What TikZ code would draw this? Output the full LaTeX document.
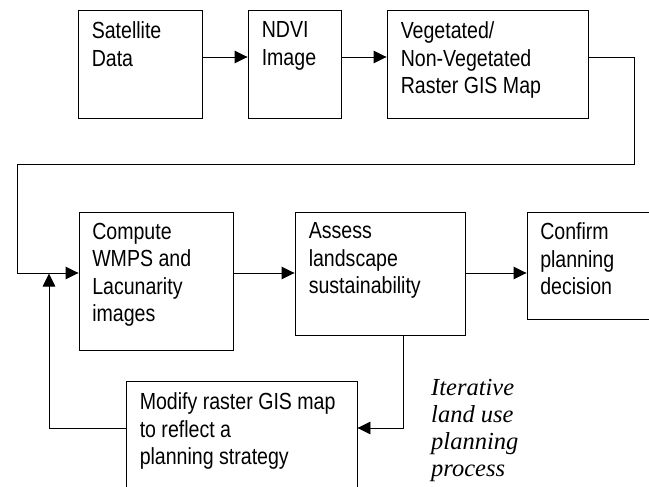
\documentclass[tikz,border=0pt]{standalone}
\usepackage{fontspec}
\setmainfont{Liberation Sans}[FakeStretch=0.84]
\newfontfamily\serifit{Liberation Serif}
\usetikzlibrary{arrows.meta}
\tikzset{
  box/.style={draw=black, line width=0.9pt, inner sep=0pt, fill=white},
  txt/.style={anchor=north west, inner sep=0pt, align=left, font=\fontsize{23.3}{27.5}\selectfont},
  ital/.style={anchor=north west, inner sep=0pt, align=left, font=\serifit\itshape\fontsize{24.5}{27}\selectfont},
  arr/.style={draw=black, line width=0.9pt, -{Triangle[length=13pt,width=12.5pt]}},
  ln/.style={draw=black, line width=0.9pt}
}
\begin{document}
\begin{tikzpicture}[x=1pt,y=-1pt]
\useasboundingbox (0,0) rectangle (649,487);
% boxes
\node[box, minimum width=124pt, minimum height=108pt] (sat) at (140,64) {};
\node[box, minimum width=93pt, minimum height=108pt] (ndvi) at (294.5,64) {};
\node[box, minimum width=201pt, minimum height=108pt] (veg) at (487.5,64) {};
\node[box, minimum width=154pt, minimum height=138pt] (comp) at (156,281) {};
\node[box, minimum width=170pt, minimum height=123pt] (assess) at (380,273.5) {};
\node[box, minimum width=143pt, minimum height=107pt] (conf) at (598.5,265.5) {};
\node[box, minimum width=231pt, minimum height=119pt] (mod) at (241.5,440.5) {};
% texts
\node[txt] (satt) at ([xshift=14pt,yshift=-12pt]sat.north west) {Satellite\\Data};
\node[txt] (ndvit) at ([xshift=14pt,yshift=-12pt]ndvi.north west) {NDVI\\Image};
\node[txt] (vegt) at ([xshift=14pt,yshift=-12pt]veg.north west) {Vegetated/\\Non-Vegetated\\Raster GIS Map};
\node[txt] (compt) at ([xshift=13.5pt,yshift=-11pt]comp.north west) {Compute\\WMPS and\\Lacunarity\\images};
\node[txt] (assesst) at ([xshift=14pt,yshift=-11pt]assess.north west) {Assess\\landscape\\sustainability};
\node[txt] (conft) at ([xshift=13.5pt,yshift=-11pt]conf.north west) {Confirm\\planning\\decision};
\node[txt] (modt) at ([xshift=14pt,yshift=-12pt]mod.north west) {Modify raster GIS map\\to reflect a\\planning strategy};
\node[ital] (iter) at (431,379) {Iterative\\land use\\planning\\process};
% helper coordinates
\coordinate (yt) at (0,57);
\coordinate (r1) at (634,164);
\coordinate (l1) at (17,164);
\coordinate (ym) at (0,273);
\coordinate (xa) at (403,0);
\coordinate (yb) at (0,428);
\coordinate (j) at (49,273.5);
% connectors
\draw[arr] (sat.east |- yt) -- (ndvi.west |- yt);
\draw[arr] (ndvi.east |- yt) -- (veg.west |- yt);
\draw[arr] (veg.east |- yt) -| (r1) -- (l1) |- (comp.west |- ym);
\draw[arr] (comp.east |- ym) -- (assess.west |- ym);
\draw[arr] (assess.east |- ym) -- (conf.west |- ym);
\draw[arr] (assess.south -| xa) |- (mod.east |- yb);
\draw[arr] (mod.west |- yb) -| (j);
\end{tikzpicture}
\end{document}
